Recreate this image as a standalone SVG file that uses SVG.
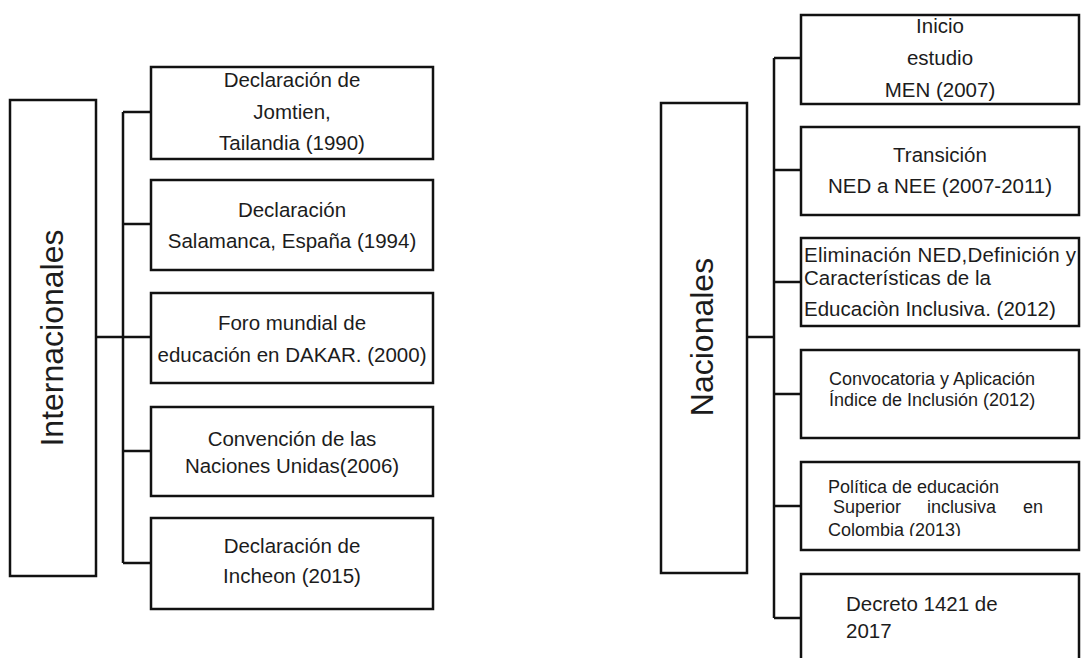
<svg xmlns="http://www.w3.org/2000/svg" width="1081" height="658" viewBox="0 0 1081 658">
<style>
.box{fill:#fff;stroke:#111;stroke-width:2.5}
.ln{fill:none;stroke:#111;stroke-width:2.5}
text{font-family:"Liberation Sans",Arial,sans-serif;fill:#1c1c1c}
.t{font-size:20.5px}
.c{text-anchor:middle}
.s{font-size:18px}
.big{font-size:32px;text-anchor:middle}
</style>
<defs>
<clipPath id="clip5"><rect x="801" y="462" width="278" height="74"/></clipPath>
</defs>
<rect width="1081" height="658" fill="#fff"/>
<g id="connectors">
<path class="ln" d="M96 337H123M123 112V563M123 112H151M123 224H151M123 337H151M123 451H151M123 563H151"/>
<path class="ln" d="M747 337H774M774 58V618M774 58H801M774 170H801M774 282H801M774 394H801M774 506H801M774 618H801"/>
</g>
<g id="internacionales">
<rect class="box" x="10" y="100" width="86" height="476"/>
<text class="big" transform="translate(63 338) rotate(-90)">Internacionales</text>
</g>
<g id="i1">
<rect class="box" x="151" y="67" width="282" height="92"/>
<text class="t c" x="292" y="87">Declaración de</text>
<text class="t c" x="292" y="119">Jomtien,</text>
<text class="t c" x="292" y="150">Tailandia (1990)</text>
</g>
<g id="i2">
<rect class="box" x="151" y="180" width="282" height="90"/>
<text class="t c" x="292" y="217">Declaración</text>
<text class="t c" x="292" y="248">Salamanca, España (1994)</text>
</g>
<g id="i3">
<rect class="box" x="151" y="293" width="282" height="90"/>
<text class="t c" x="292" y="330">Foro mundial de</text>
<text class="t c" x="292" y="362">educación en DAKAR. (2000)</text>
</g>
<g id="i4">
<rect class="box" x="151" y="407" width="282" height="89"/>
<text class="t c" x="292" y="446">Convención de las</text>
<text class="t c" x="292" y="473">Naciones Unidas(2006)</text>
</g>
<g id="i5">
<rect class="box" x="151" y="518" width="282" height="91"/>
<text class="t c" x="292" y="553">Declaración de</text>
<text class="t c" x="292" y="583">Incheon (2015)</text>
</g>
<g id="nacionales">
<rect class="box" x="661" y="103" width="86" height="470"/>
<text class="big" transform="translate(713 337) rotate(-90)">Nacionales</text>
</g>
<g id="n1">
<rect class="box" x="801" y="15" width="278" height="89"/>
<text class="t c" x="940" y="33">Inicio</text>
<text class="t c" x="940" y="65">estudio</text>
<text class="t c" x="940" y="97">MEN (2007)</text>
</g>
<g id="n2">
<rect class="box" x="801" y="127" width="278" height="88"/>
<text class="t c" x="940" y="162">Transición</text>
<text class="t c" x="940" y="193">NED a NEE (2007-2011)</text>
</g>
<g id="n3">
<rect class="box" x="801" y="238" width="278" height="88"/>
<text class="t" x="804" y="262" textLength="272" lengthAdjust="spacing">Eliminación NED,Definición y</text>
<text class="t" x="804" y="285">Características de la</text>
<text class="t" x="804" y="316">Educaciòn Inclusiva. (2012)</text>
</g>
<g id="n4">
<rect class="box" x="801" y="350" width="278" height="88"/>
<text class="s" x="829" y="385">Convocatoria y Aplicación</text>
<text class="s" x="829" y="406">Índice de Inclusión (2012)</text>
</g>
<g id="n5">
<rect class="box" x="801" y="462" width="278" height="88"/>
<g clip-path="url(#clip5)">
<text class="s" x="828" y="493">Política de educación</text>
<text class="s" y="513"><tspan x="833">Superior</tspan><tspan x="927">inclusiva</tspan><tspan x="1023">en</tspan></text>
<text class="s" x="828" y="536">Colombia (2013)</text>
</g>
</g>
<g id="n6">
<rect class="box" x="801" y="574" width="278" height="110"/>
<text class="t" x="846" y="611">Decreto 1421 de</text>
<text class="t" x="846" y="638">2017</text>
</g>
</svg>
